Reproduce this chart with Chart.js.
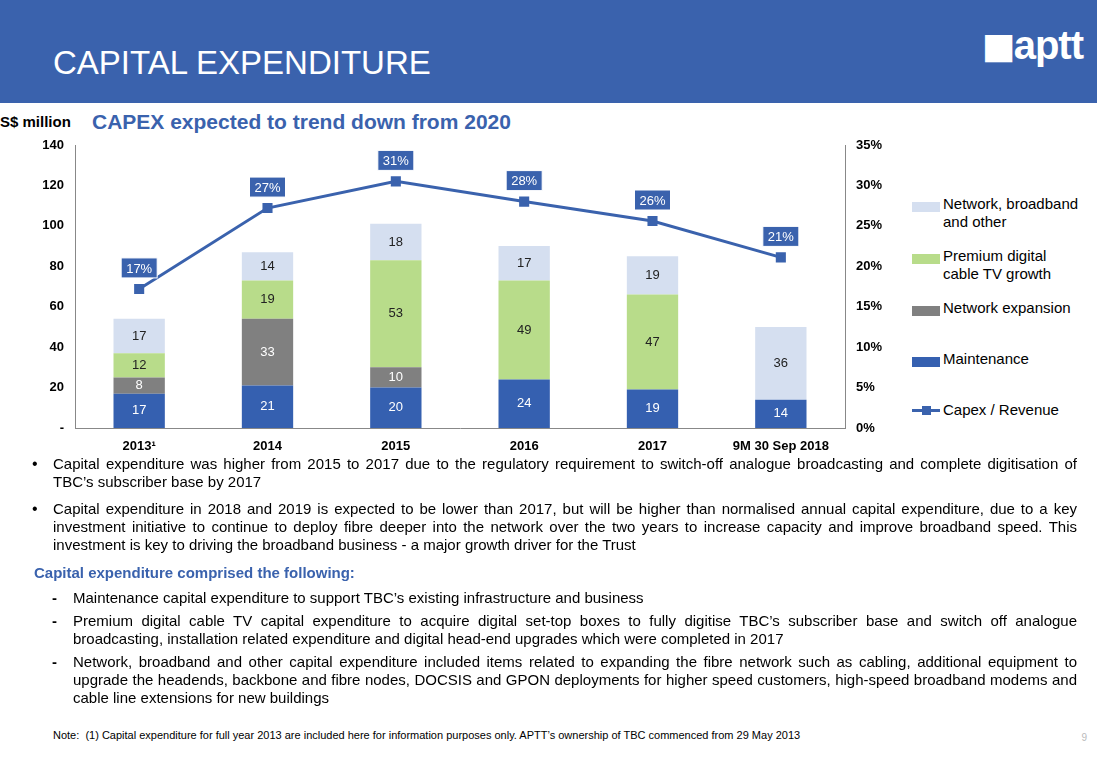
<!DOCTYPE html>
<html><head><meta charset="utf-8">
<script src="https://cdn.jsdelivr.net/npm/chart.js@4"></script>
<style>
body{margin:0;width:1097px;height:759px;position:relative;font-family:"Liberation Sans",Arial,sans-serif;background:#fff;overflow:hidden}
#hdr{position:absolute;left:0;top:0;width:1097px;height:103px;background:#3a62ad}
#hdr h1{position:absolute;left:53px;top:44px;margin:0;color:#fff;font-weight:normal;font-size:33px}
#logo{position:absolute;right:14px;top:22px;color:#fff;font-size:40px;font-weight:bold;letter-spacing:-1px}
#unit{position:absolute;left:0;top:113px;font-weight:bold;font-size:15px}
#sub{position:absolute;left:92px;top:110px;font-weight:bold;font-size:21px;color:#3a62ad}
#cv{position:absolute;left:0;top:130px}
#leg{position:absolute;left:912px;top:197px;font-size:15px;line-height:18px}
.li{position:absolute;left:0;width:190px}
.sw{position:absolute;left:0;width:28px;height:10px}
.lt{position:absolute;left:31px;top:-2px}
#txt{position:absolute;left:32px;top:455px;width:1045px;font-size:15px;line-height:18px;text-align:justify}
.b{position:relative;padding-left:21px;margin-bottom:9px}
.b:before{content:"•";position:absolute;left:0;font-size:16px}
.d{position:relative;padding-left:41px;margin-bottom:5px}
.d:before{content:"-";position:absolute;left:20px;font-weight:bold}
#h2{color:#3a62ad;font-weight:bold;margin:10px 0 7px 2px}
#note{position:absolute;left:53px;top:729px;font-size:11px}
#pg{position:absolute;right:10px;top:732px;font-size:10px;color:#bbb}
</style></head><body>
<div id="hdr"><h1>CAPITAL EXPENDITURE</h1><div id="logo">◼aptt</div></div>
<div id="unit">S$ million</div>
<div id="sub">CAPEX expected to trend down from 2020</div>
<canvas id="cv" width="900" height="330" style="width:900px;height:330px"></canvas>
<div id="leg">
<div class="li" style="top:0"><div class="sw" style="background:#d5dff0;top:5px"></div><div class="lt">Network, broadband<br>and other</div></div>
<div class="li" style="top:52px"><div class="sw" style="background:#b8dc8a;top:5px"></div><div class="lt">Premium digital<br>cable TV growth</div></div>
<div class="li" style="top:104px"><div class="sw" style="background:#808080;top:5px"></div><div class="lt">Network expansion</div></div>
<div class="li" style="top:155px"><div class="sw" style="background:#3560b0;top:5px"></div><div class="lt">Maintenance</div></div>
<div class="li" style="top:206px"><div class="sw" style="background:none;top:0"><div style="position:absolute;top:6px;width:28px;height:3px;background:#3a62ad"></div><div style="position:absolute;left:10px;top:3px;width:9px;height:9px;background:#3a62ad"></div></div><div class="lt">Capex / Revenue</div></div>
</div>
<div id="txt">
<div class="b">Capital expenditure was higher from 2015 to 2017 due to the regulatory requirement to switch-off analogue broadcasting and complete digitisation of TBC’s subscriber base by 2017</div>
<div class="b">Capital expenditure in 2018 and 2019 is expected to be lower than 2017, but will be higher than normalised annual capital expenditure, due to a key investment initiative to continue to deploy fibre deeper into the network over the two years to increase capacity and improve broadband speed. This investment is key to driving the broadband business - a major growth driver for the Trust</div>
<div id="h2">Capital expenditure comprised the following:</div>
<div class="d">Maintenance capital expenditure to support TBC’s existing infrastructure and business</div>
<div class="d">Premium digital cable TV capital expenditure to acquire digital set-top boxes to fully digitise TBC’s subscriber base and switch off analogue broadcasting, installation related expenditure and digital head-end upgrades which were completed in 2017</div>
<div class="d">Network, broadband and other capital expenditure included items related to expanding the fibre network such as cabling, additional equipment to upgrade the headends, backbone and fibre nodes, DOCSIS and GPON deployments for higher speed customers, high-speed broadband modems and cable line extensions for new buildings</div>
</div>
<div id="note">Note:&nbsp; (1) Capital expenditure for full year 2013 are included here for information purposes only. APTT’s ownership of TBC commenced from 29 May 2013</div>
<div id="pg">9</div>
<script>
const categories=["2013¹","2014","2015","2016","2017","9M 30 Sep 2018"];
const maintenance=[17,21,20,24,19,14];
const expansion=[8,33,10,0,0,0];
const premium=[12,19,53,49,47,0];
const network=[17,14,18,17,19,36];
const ratio=[17.2,27.2,30.5,28,25.6,21.1];
const ratioLabels=["17%","27%","31%","28%","26%","21%"];
const leftTicks=[0,20,40,60,80,100,120,140];

const labels={id:'lbl',afterDatasetsDraw(c){
 const ctx=c.ctx;ctx.save();ctx.font='13px "Liberation Sans",Arial';ctx.textAlign='center';ctx.textBaseline='middle';
 c.data.datasets.forEach((ds,i)=>{
  const m=c.getDatasetMeta(i);
  m.data.forEach((el,j)=>{
   const v=ds.data[j];
   if(ds.type==='line'){
    const x=el.x,y=el.y-21;ctx.fillStyle='#3a62ad';ctx.fillRect(x-18,y-10,36,20);
    ctx.strokeStyle='#fff';ctx.lineWidth=1;ctx.strokeRect(x-18,y-10,36,20);
    ctx.fillStyle='#fff';ctx.fillText(ratioLabels[j],x,y+1);
   }else if(v){
    ctx.fillStyle=i===0||i===1?'#fff':'#222';
    ctx.fillText(v,el.x,(el.y+el.base)/2);
   }
  });
 });ctx.restore();}};

new Chart(document.getElementById('cv'),{
 data:{labels:categories,datasets:[
  {type:'bar',data:maintenance,backgroundColor:'#3560b0',yAxisID:'y',order:2},
  {type:'bar',data:expansion,backgroundColor:'#808080',yAxisID:'y',order:2},
  {type:'bar',data:premium,backgroundColor:'#b8dc8a',yAxisID:'y',order:2},
  {type:'bar',data:network,backgroundColor:'#d5dff0',yAxisID:'y',order:2},
  {type:'line',data:ratio,borderColor:'#3a62ad',backgroundColor:'#3a62ad',borderWidth:3,pointStyle:'rect',pointRadius:5,yAxisID:'y2',order:1}
 ]},
 options:{responsive:false,animation:false,layout:{padding:{top:15}},
  plugins:{legend:{display:false},tooltip:{enabled:false}},
  datasets:{bar:{categoryPercentage:0.8,barPercentage:0.5}},
  scales:{
   x:{stacked:true,grid:{display:false},border:{color:'#888'},ticks:{color:'#000',font:{weight:'bold',size:13,family:'"Liberation Sans",Arial'}},afterFit(s){s.height=32}},
   y:{stacked:true,min:0,max:140,afterBuildTicks(s){s.ticks=leftTicks.map(v=>({value:v}))},
      grid:{display:false},border:{color:'#888'},
      ticks:{color:'#000',font:{weight:'bold',size:13,family:'"Liberation Sans",Arial'},callback:v=>v===0?'-':v},afterFit(s){s.width=75}},
   y2:{position:'right',min:0,max:35,grid:{display:false},border:{color:'#888'},
      ticks:{stepSize:5,color:'#000',font:{weight:'bold',size:13,family:'"Liberation Sans",Arial'},callback:v=>v+'%'},afterFit(s){s.width=55}}
  }},
 plugins:[labels]});
</script>
</body></html>
